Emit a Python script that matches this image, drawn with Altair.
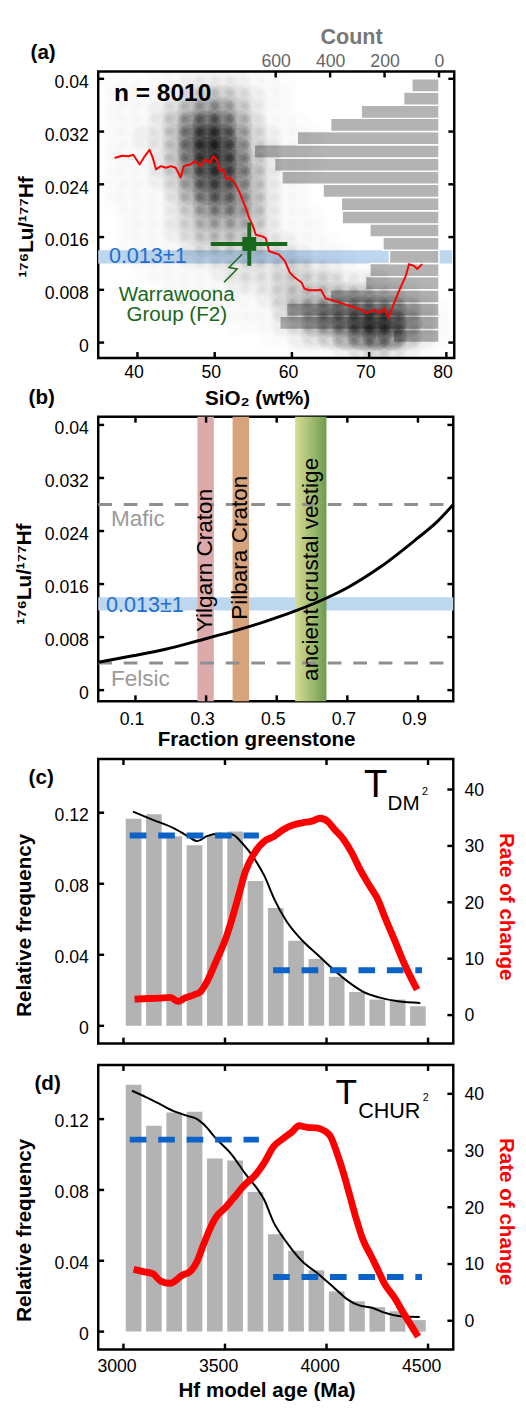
import altair as alt
import pandas as pd

FONT = "Liberation Sans"
NUM_FMT = ".4~g"

# ======================= panel (a) data =======================
A_SIO2_DOMAIN = [34.92, 81.02]
A_LUHF_DOMAIN = [-0.00233, 0.0411]
A_COUNT_DOMAIN = [-56, 1252]
SIO2_TICKS = [40, 50, 60, 70, 80]
LUHF_TICKS = [0, 0.008, 0.016, 0.024, 0.032, 0.04]
COUNT_TICKS = [0, 200, 400, 600]

HIST_BIN_LO = [0.000, 0.002, 0.004, 0.006, 0.008, 0.010, 0.012, 0.014, 0.016, 0.018,
               0.020, 0.022, 0.024, 0.026, 0.028, 0.030, 0.032, 0.034, 0.036, 0.038]
HIST_COUNT = [168, 585, 560, 400, 270, 254, 182, 206, 254, 356,
              359, 426, 577, 604, 679, 521, 398, 286, 130, 100]
HIST_BIN_WIDTH = 0.002

# point-density of the 8010 analyses, estimated per 2 wt% x 0.002 cell (hex level 0..b)
DENS_SIO2 = [37, 39, 41, 43, 45, 47, 49, 51, 53, 55, 57, 59, 61, 63, 65, 67, 69, 71, 73, 75, 77, 79]
DENS_LUHF = [0.041, 0.039, 0.037, 0.035, 0.033, 0.031, 0.029, 0.027, 0.025, 0.023, 0.021,
             0.019, 0.017, 0.015, 0.013, 0.011, 0.009, 0.007, 0.005, 0.003, 0.001, -0.001]
DENS_ROWS = [
    "0001111111100000000000",
    "1111122221110000000000",
    "1111234432110000000000",
    "1112356642110000000000",
    "1112479853111000000000",
    "112248ba63211100000000",
    "111248ba73211000000000",
    "111247aa74211100000000",
    "1112369974211000000000",
    "1111358864211000000000",
    "1111246764211000000000",
    "0111235554211100000000",
    "0111234443211100000000",
    "0111123333221110000000",
    "0111122223222111000000",
    "0011111222233221110000",
    "0001111122233332221100",
    "0000111111234444433210",
    "0000001111134566776421",
    "00000000111235679a9521",
    "0000000000112346898421",
    "0000000000001112343210",
]
N_ANALYSES = 8010

RED_A_SIO2 = [37.04, 37.97, 38.82, 39.45, 40.29, 40.93, 41.56, 41.99, 42.41, 43.05, 43.68, 44.32,
              44.95, 45.59, 46.01, 46.86, 47.49, 48.13, 48.76, 49.40, 49.82, 50.25, 50.67, 51.09,
              51.52, 51.94, 52.57, 53.21, 53.63, 54.06, 54.48, 54.90, 55.33, 56.17, 56.60, 57.02,
              57.65, 58.29, 59.08, 59.72, 60.32, 61.21, 61.63, 62.26, 63.33, 63.75, 64.38, 65.23,
              66.50, 67.77, 69.04, 69.68, 70.73, 71.37, 72.00, 72.51, 73.05, 73.90, 74.76, 75.17,
              75.81, 76.23, 76.86]
RED_A_LUHF = [0.0280, 0.02834, 0.02825, 0.02849, 0.0270, 0.02825, 0.02923, 0.0280, 0.02626,
              0.02677, 0.02651, 0.02677, 0.02651, 0.02503, 0.02677, 0.0270, 0.02751, 0.02677,
              0.02775, 0.02726, 0.02825, 0.02775, 0.02602, 0.02626, 0.02477, 0.02503, 0.02428,
              0.0228, 0.02156, 0.02031, 0.01883, 0.01784, 0.01636, 0.0161, 0.01585, 0.01387,
              0.01362, 0.01338, 0.01239, 0.01065, 0.0099, 0.00916, 0.00818, 0.00793, 0.00793,
              0.00803, 0.00669, 0.00644, 0.00595, 0.00544, 0.00495, 0.00446, 0.00495, 0.00446,
              0.0052, 0.00372, 0.00544, 0.00793, 0.01016, 0.0119, 0.01164, 0.01115, 0.0119]

WARRA_SIO2 = 54.48
WARRA_LUHF = 0.01496
WARRA_SIO2_RANGE = [49.49, 59.40]
WARRA_LUHF_RANGE = [0.01164, 0.01822]
ZIGZAG_SIO2 = [53.55, 51.85, 52.91, 51.21]
ZIGZAG_LUHF = [0.01338, 0.01139, 0.01115, 0.00916]

TARGET_LUHF = [0.012, 0.014]          # 0.013 +/- 0.001
TARGET_LABEL = "0.013±1"

# ======================= panel (b) data =======================
B_FRAC_DOMAIN = [-0.0055, 1.0]
B_LUHF_DOMAIN = [-0.00167, 0.04123]
FRAC_TICKS = [0.1, 0.3, 0.5, 0.7, 0.9]
MIX_FRAC = [-0.005, 0.0924, 0.185, 0.2774, 0.3698, 0.4624, 0.5548, 0.6472, 0.7027, 0.7952,
            0.8968, 0.9523, 1.0]
MIX_LUHF = [0.0042, 0.00518, 0.00617, 0.00745, 0.00878, 0.01027, 0.01198, 0.01405, 0.01553,
            0.01864, 0.02284, 0.0253, 0.0280]
MAFIC_LUHF = 0.028
FELSIC_LUHF = 0.0041
CRATON_NAMES = ["Yilgarn Craton", "Pilbara Craton", "ancient crustal vestige"]
CRATON_LO = [0.2755, 0.375, 0.552]
CRATON_HI = [0.3218, 0.4216, 0.6408]

# ======================= panels (c), (d) data =======================
AGE_DOMAIN = [2900, 4600]
AGE_TICKS = [3000, 3500, 4000, 4500]
FREQ_TICKS = [0, 0.04, 0.08, 0.12]
RATE_TICKS = [0, 10, 20, 30, 40]
AGE_BIN_CENTERS = [3050, 3150, 3250, 3350, 3450, 3550, 3650, 3750, 3850, 3950,
                   4050, 4150, 4250, 4350, 4450]

C_FREQ = [0.1166, 0.1192, 0.1068, 0.1017, 0.1072, 0.1094, 0.0815, 0.0663, 0.0479, 0.0377,
          0.0276, 0.0190, 0.0148, 0.0148, 0.0110]
C_BLACK_AGE = [3047, 3145, 3254, 3317, 3364, 3411, 3474, 3536, 3583, 3646, 3693, 3741, 3803,
               3882, 3960, 4038, 4117, 4179, 4258, 4352, 4462]
C_BLACK_FREQ = [0.1206, 0.1160, 0.1109, 0.1068, 0.1040, 0.1068, 0.1081, 0.1077, 0.1031, 0.0939,
                0.0847, 0.0718, 0.0589, 0.0479, 0.0396, 0.0313, 0.0239, 0.0193, 0.0160, 0.0138,
                0.0129]
C_RED_AGE = [3055, 3098, 3176, 3231, 3270, 3301, 3348, 3380, 3411, 3458, 3505, 3536, 3568, 3599,
             3646, 3693, 3741, 3788, 3835, 3882, 3929, 3968, 4007, 4038, 4085, 4124, 4164, 4211,
             4250, 4289, 4336, 4383, 4446]
C_RED_RATE = [2.84, 2.9, 3.0, 3.13, 2.43, 3.0, 3.6, 4.17, 5.9, 9.7, 13.7, 17.2, 21.3, 25.3, 28.8,
              30.8, 31.7, 32.9, 33.7, 34.1, 34.4, 34.9, 34.3, 33.0, 31.1, 28.8, 25.9, 23.0, 20.7,
              17.2, 13.2, 9.1, 4.5]
C_MEAN_AGE_FROM = [3031, 3737]
C_MEAN_AGE_TO = [3667, 4470]
C_MEAN_FREQ = [0.1072, 0.0313]
C_FREQ_DOMAIN = [-0.00994, 0.1502]
C_RATE_DOMAIN = [-5.04, 45.4]

D_FREQ = [0.1394, 0.1163, 0.1237, 0.1242, 0.0978, 0.0966, 0.0788, 0.0550, 0.0456, 0.0347,
          0.0227, 0.0172, 0.0138, 0.0115, 0.0065]
D_BLACK_AGE = [3042, 3113, 3176, 3254, 3316, 3363, 3394, 3457, 3535, 3598, 3661, 3692, 3739,
               3801, 3880, 3958, 4036, 4099, 4161, 4224, 4286, 4365, 4459]
D_BLACK_FREQ = [0.1360, 0.1323, 0.1287, 0.1242, 0.1218, 0.1200, 0.1172, 0.1089, 0.0997, 0.0895,
                0.0803, 0.0747, 0.0618, 0.0508, 0.0397, 0.0327, 0.0249, 0.0185, 0.0148, 0.0135,
                0.0107, 0.0087, 0.0083]
D_RED_AGE = [3050, 3097, 3144, 3183, 3230, 3254, 3285, 3332, 3363, 3394, 3426, 3457, 3504, 3551,
             3598, 3645, 3692, 3739, 3786, 3833, 3864, 3903, 3950, 3989, 4021, 4052, 4083, 4115,
             4146, 4177, 4224, 4255, 4286, 4333, 4380, 4451]
D_RED_RATE = [9.05, 8.65, 8.3, 7.0, 6.6, 7.0, 7.9, 8.8, 10.5, 13.4, 16.2, 18.3, 20.0, 22.0, 24.0,
              25.5, 27.8, 30.7, 32.1, 33.4, 34.4, 34.1, 34.0, 33.5, 32.4, 29.5, 26.1, 22.0, 18.0,
              14.5, 11.1, 8.8, 6.5, 4.15, 1.3, -2.8]
D_MEAN_AGE_FROM = [3031, 3737]
D_MEAN_AGE_TO = [3667, 4470]
D_MEAN_FREQ = [0.1084, 0.0308]
D_FREQ_DOMAIN = [-0.0101, 0.1505]
D_RATE_DOMAIN = [-5.07, 45.07]

# ======================= styles =======================
RED = "#ff0000"
GREEN = "#19671a"
BAND_BLUE = "#bdd7ef"
BLUE_TEXT = "#1f6fd1"
HIST_GREY = "#b3b3b3"
DASH_BLUE = "#0b63c7"
GREY_DASH = "#8f8f8f"
GREY_TEXT = "#9a9a9a"
CRATON_COLORS = ["#dcaaaa", "#d8a27c"]
VESTIGE_GRADIENT = {"gradient": "linear", "x1": 0, "x2": 1, "y1": 0, "y2": 0,
                    "stops": [{"offset": 0, "color": "#d9de96"}, {"offset": 1, "color": "#6c9c50"}]}
KERNEL_SIZES = [900, 450, 180]   # concentric soft discs used to shade the point density

W, H = 362, 290
WA, HA = 363, 292
TICK_LEN = 6


def sc(domain, reverse=False):
    if reverse:
        return alt.Scale(domain=domain, nice=False, zero=False, reverse=True)
    return alt.Scale(domain=domain, nice=False, zero=False)


def yticks(vals, scale, axis, side, width):
    x0, x1 = (0, TICK_LEN) if side == "left" else (width - TICK_LEN, width)
    return alt.Chart(pd.DataFrame({"v": vals})).mark_rule(color="black", strokeWidth=2.5).encode(
        y=alt.Y("v:Q", scale=scale, axis=axis), x=alt.value(x0), x2=alt.value(x1))


def xticks(vals, scale, axis, side, height):
    y0, y1 = (0, TICK_LEN) if side == "top" else (height - TICK_LEN, height)
    return alt.Chart(pd.DataFrame({"v": vals})).mark_rule(color="black", strokeWidth=2.5).encode(
        x=alt.X("v:Q", scale=scale, axis=axis), y=alt.value(y0), y2=alt.value(y1))


def pix_text(text, x, y, size, weight="normal", color="black"):
    return alt.Chart(pd.DataFrame({"t": [text]})).mark_text(
        font=FONT, fontSize=size, fontWeight=weight, color=color, align="left",
        baseline="alphabetic").encode(x=alt.value(x), y=alt.value(y), text="t:N")


def data_text(texts, xv, yv, xs, xa, ys, ya, size, color="black", weight="normal",
              align="left", baseline="alphabetic", angle=None, **extra):
    kw = dict(font=FONT, fontSize=size, fontWeight=weight, color=color, align=align,
              baseline=baseline, **extra)
    if angle is not None:
        kw["angle"] = angle
    return alt.Chart(pd.DataFrame({"t": texts, "x": xv, "y": yv})).mark_text(**kw).encode(
        x=alt.X("x:Q", scale=xs, axis=xa), y=alt.Y("y:Q", scale=ys, axis=ya), text="t:N")


def left_axis(values, title, title_y, tx=-75.5, label_offset=3):
    return alt.Axis(orient="left", values=values, format=NUM_FMT, labelPadding=10,
                    labelOffset=label_offset, title=title, titleX=tx, titleY=title_y,
                    titleAngle=270, titleAlign="center", titleBaseline="middle")


# ======================= panel (a) =======================
xs_a = sc(A_SIO2_DOMAIN)
ys_a = sc(A_LUHF_DOMAIN)
cs_a = sc(A_COUNT_DOMAIN, reverse=True)
YA = left_axis(LUHF_TICKS, "¹⁷⁶Lu/¹⁷⁷Hf", 158, tx=-73.5, label_offset=4)
XA = alt.Axis(orient="bottom", values=SIO2_TICKS, format=NUM_FMT, labelPadding=6,
              labelOffset=-4, title="SiO₂ (wt%)", titleX=162, titleY=47.7,
              titleAlign="center", titleBaseline="alphabetic")
CA = alt.Axis(orient="top", values=COUNT_TICKS, format=NUM_FMT, labelColor="#666666",
              labelBaseline="alphabetic", labelPadding=5, title="Count",
              titleColor="#777777", titleFontSize=22, titleX=257.8, titleY=-28.7,
              titleAlign="center", titleBaseline="alphabetic")

a_band = alt.Chart(pd.DataFrame({"lo": [TARGET_LUHF[0]], "hi": [TARGET_LUHF[1]]})).mark_rect(
    color=BAND_BLUE).encode(
    x=alt.value(0), x2=alt.value(WA - 2),
    y=alt.Y("lo:Q", scale=ys_a, axis=YA), y2="hi:Q")

hist_df = pd.DataFrame({"lo": HIST_BIN_LO, "count": HIST_COUNT})
hist_df["hi"] = hist_df["lo"] + HIST_BIN_WIDTH
hist_df["zero"] = 0
a_hist = alt.Chart(hist_df).mark_rect(color=HIST_GREY, stroke="white", strokeWidth=1.5).encode(
    x=alt.X("count:Q", scale=cs_a, axis=CA), x2="zero:Q",
    y=alt.Y("lo:Q", scale=ys_a, axis=YA), y2="hi:Q")
a_hist_layer = alt.layer(a_hist, xticks(COUNT_TICKS, cs_a, CA, "top", HA))

dens_records = []
for yv, row in zip(DENS_LUHF, DENS_ROWS):
    assert len(row) == len(DENS_SIO2), row
    for xv, ch in zip(DENS_SIO2, row):
        lvl = int(ch, 16)
        if lvl:
            for k in range(len(KERNEL_SIZES)):
                dens_records.append({"sio2": xv, "luhf": yv, "level": lvl, "ring": k})
dens_df = pd.DataFrame(dens_records)

a_dens = alt.Chart(dens_df).mark_circle(color="black", clip=True).encode(
    x=alt.X("sio2:Q", scale=xs_a, axis=XA),
    y=alt.Y("luhf:Q", scale=ys_a, axis=YA),
    size=alt.Size("ring:O", scale=alt.Scale(domain=list(range(len(KERNEL_SIZES))),
                                            range=KERNEL_SIZES), legend=None),
    opacity=alt.Opacity("level:Q", scale=alt.Scale(type="pow", exponent=1.5, domain=[0, 11],
                                                   range=[0, 0.2]), legend=None))

red_a_df = pd.DataFrame({"sio2": RED_A_SIO2, "luhf": RED_A_LUHF, "i": list(range(len(RED_A_SIO2)))})
a_red = alt.Chart(red_a_df).mark_line(color=RED, strokeWidth=2, strokeJoin="round").encode(
    x=alt.X("sio2:Q", scale=xs_a, axis=XA), y=alt.Y("luhf:Q", scale=ys_a, axis=YA),
    order="i:Q")

a_hbar = alt.Chart(pd.DataFrame({"x0": [WARRA_SIO2_RANGE[0]], "x1": [WARRA_SIO2_RANGE[1]],
                                 "y": [WARRA_LUHF]})).mark_rule(color=GREEN, strokeWidth=4).encode(
    x=alt.X("x0:Q", scale=xs_a, axis=XA), x2="x1:Q", y=alt.Y("y:Q", scale=ys_a, axis=YA))
a_vbar = alt.Chart(pd.DataFrame({"x": [WARRA_SIO2], "y0": [WARRA_LUHF_RANGE[0]],
                                 "y1": [WARRA_LUHF_RANGE[1]]})).mark_rule(color=GREEN, strokeWidth=4).encode(
    x=alt.X("x:Q", scale=xs_a, axis=XA), y=alt.Y("y0:Q", scale=ys_a, axis=YA), y2="y1:Q")
a_sq = alt.Chart(pd.DataFrame({"x": [WARRA_SIO2], "y": [WARRA_LUHF]})).mark_square(
    color=GREEN, size=200, opacity=1).encode(
    x=alt.X("x:Q", scale=xs_a, axis=XA), y=alt.Y("y:Q", scale=ys_a, axis=YA))
zig_df = pd.DataFrame({"x": ZIGZAG_SIO2, "y": ZIGZAG_LUHF, "i": list(range(len(ZIGZAG_SIO2)))})
a_zig = alt.Chart(zig_df).mark_line(color=GREEN, strokeWidth=1.5).encode(
    x=alt.X("x:Q", scale=xs_a, axis=XA), y=alt.Y("y:Q", scale=ys_a, axis=YA), order="i:Q")

a_n = data_text([f"n = {N_ANALYSES}"], [36.95], [0.03662], xs_a, XA, ys_a, YA, 25, weight="bold")
a_target = data_text([TARGET_LABEL], [36.3], [0.012], xs_a, XA, ys_a, YA, 22, color=BLUE_TEXT)
a_warra = data_text(["Warrawoona\nGroup (F2)"], [45.08], [0.00633], xs_a, XA, ys_a, YA,
                    21, color=GREEN, align="center", lineBreak="\n", lineHeight=21)

a_main = alt.layer(
    a_dens, a_target, a_red, a_zig, a_hbar, a_vbar, a_sq, a_n, a_warra,
    yticks(LUHF_TICKS, ys_a, YA, "left", WA), yticks(LUHF_TICKS, ys_a, YA, "right", WA),
    xticks(SIO2_TICKS, xs_a, XA, "bottom", HA),
    pix_text("(a)", -69, -13, 21, "bold"),
)
panel_a = alt.layer(a_band, a_hist_layer, a_main).resolve_scale(x="independent").properties(
    width=WA, height=HA)

# ======================= panel (b) =======================
xs_b = sc(B_FRAC_DOMAIN)
ys_b = sc(B_LUHF_DOMAIN)
YB = left_axis(LUHF_TICKS, "¹⁷⁶Lu/¹⁷⁷Hf", 160, label_offset=4)
XB = alt.Axis(orient="bottom", values=FRAC_TICKS, format=NUM_FMT, labelPadding=10,
              labelOffset=-4, title="Fraction greenstone", titleX=161, titleY=45,
              titleAlign="center", titleBaseline="alphabetic")

b_band = alt.Chart(pd.DataFrame({"lo": [TARGET_LUHF[0]], "hi": [TARGET_LUHF[1]]})).mark_rect(
    color=BAND_BLUE).encode(
    x=alt.value(0), x2=alt.value(W), y=alt.Y("lo:Q", scale=ys_b, axis=YB), y2="hi:Q")
crat_df = pd.DataFrame({"name": CRATON_NAMES[:2], "lo": CRATON_LO[:2], "hi": CRATON_HI[:2]})
b_crat = alt.Chart(crat_df).mark_rect().encode(
    x=alt.X("lo:Q", scale=xs_b, axis=XB), x2="hi:Q", y=alt.value(0), y2=alt.value(H),
    color=alt.Color("name:N", scale=alt.Scale(domain=CRATON_NAMES[:2], range=CRATON_COLORS),
                    legend=None))
b_vest = alt.Chart(pd.DataFrame({"lo": CRATON_LO[2:], "hi": CRATON_HI[2:]})).mark_rect(
    color=VESTIGE_GRADIENT).encode(
    x=alt.X("lo:Q", scale=xs_b, axis=XB), x2="hi:Q", y=alt.value(0), y2=alt.value(H))
b_dash = alt.Chart(pd.DataFrame({"v": [MAFIC_LUHF, FELSIC_LUHF]})).mark_rule(
    color=GREY_DASH, strokeWidth=3, strokeDash=[14, 12]).encode(
    y=alt.Y("v:Q", scale=ys_b, axis=YB), x=alt.value(0), x2=alt.value(W))
b_end = data_text(["Mafic", "Felsic"], [0.0305, 0.0305], [0.0248, 0.00065], xs_b, XB, ys_b, YB,
                  23, color=GREY_TEXT)
b_target = data_text([TARGET_LABEL], [0.0166], [0.01183], xs_b, XB, ys_b, YB, 22, color=BLUE_TEXT)
b_crat_text = data_text(CRATON_NAMES, [0.298, 0.396, 0.598], [0.01956, 0.02148, 0.01822],
                        xs_b, XB, ys_b, YB, 23, align="center", baseline="middle", angle=270)
mix_df = pd.DataFrame({"f": MIX_FRAC, "y": MIX_LUHF})
b_curve = alt.Chart(mix_df).mark_line(color="black", strokeWidth=3, interpolate="monotone").encode(
    x=alt.X("f:Q", scale=xs_b, axis=XB), y=alt.Y("y:Q", scale=ys_b, axis=YB))
panel_b = alt.layer(
    b_band, b_crat, b_vest, b_dash, b_end, b_target, b_crat_text, b_curve,
    yticks(LUHF_TICKS, ys_b, YB, "left", W), yticks(LUHF_TICKS, ys_b, YB, "right", W),
    xticks(FRAC_TICKS, xs_b, XB, "top", H), xticks(FRAC_TICKS, xs_b, XB, "bottom", H),
    pix_text("(b)", -71, -13, 21, "bold"),
).properties(width=W, height=H)


# ======================= panels (c), (d) =======================
def panel_cd(freq, black_age, black_freq, red_age, red_rate, m_from, m_to, m_freq,
             freq_domain, rate_domain, show_x, texts, left_title_y, right_title_y):
    xs = sc(AGE_DOMAIN)
    yl = sc(freq_domain)
    yr = sc(rate_domain)
    if show_x:
        XX = alt.Axis(orient="bottom", values=AGE_TICKS, format=NUM_FMT, labelPadding=8,
                      labelOffset=-7, title="Hf model age (Ma)", titleX=171.7, titleY=48.3,
                      titleAlign="center", titleBaseline="alphabetic")
    else:
        XX = None
    YL = left_axis(FREQ_TICKS, "Relative frequency", left_title_y)
    YR = alt.Axis(orient="right", values=RATE_TICKS, format=NUM_FMT, labelPadding=11,
                  labelOffset=1, title="Rate of change", titleColor=RED, titleX=53.3,
                  titleY=right_title_y, titleAngle=90, titleAlign="center",
                  titleBaseline="middle")
    bars = alt.Chart(pd.DataFrame({"age": AGE_BIN_CENTERS, "freq": freq})).mark_bar(
        color=HIST_GREY, size=16, orient="vertical").encode(
        x=alt.X("age:Q", scale=xs, axis=XX), y=alt.Y("freq:Q", scale=yl, axis=YL))
    black = alt.Chart(pd.DataFrame({"age": black_age, "freq": black_freq})).mark_line(
        color="black", strokeWidth=2, interpolate="monotone").encode(
        x=alt.X("age:Q", scale=xs, axis=XX), y=alt.Y("freq:Q", scale=yl, axis=YL))
    red = alt.Chart(pd.DataFrame({"age": red_age, "rate": red_rate})).mark_line(
        color=RED, strokeWidth=7, interpolate="monotone").encode(
        x=alt.X("age:Q", scale=xs, axis=XX), y=alt.Y("rate:Q", scale=yr, axis=YR))
    dashes = alt.Chart(pd.DataFrame({"a0": m_from, "a1": m_to, "f": m_freq})).mark_rule(
        color=DASH_BLUE, strokeWidth=6, strokeDash=[17, 12]).encode(
        x=alt.X("a0:Q", scale=xs, axis=XX), x2="a1:Q", y=alt.Y("f:Q", scale=yl, axis=None))
    left1 = alt.layer(bars, black)
    right = alt.layer(red, yticks(RATE_TICKS, yr, YR, "right", W))
    left2 = alt.layer(dashes, yticks(FREQ_TICKS, yl, None, "left", W),
                      xticks(AGE_TICKS, xs, XX, "top", H), xticks(AGE_TICKS, xs, XX, "bottom", H),
                      *[pix_text(*t) for t in texts])
    return alt.layer(left1, right, left2).resolve_scale(y="independent").properties(
        width=W, height=H)


panel_c = panel_cd(C_FREQ, C_BLACK_AGE, C_BLACK_FREQ, C_RED_AGE, C_RED_RATE,
                   C_MEAN_AGE_FROM, C_MEAN_AGE_TO, C_MEAN_FREQ, C_FREQ_DOMAIN, C_RATE_DOMAIN,
                   False,
                   [("T", 271, 39, 39), ("DM", 295, 52, 21), ("2", 330, 37, 11),
                    ("(c)", -71, 25, 21, "bold")], 169, 150)
panel_d = panel_cd(D_FREQ, D_BLACK_AGE, D_BLACK_FREQ, D_RED_AGE, D_RED_RATE,
                   D_MEAN_AGE_FROM, D_MEAN_AGE_TO, D_MEAN_FREQ, D_FREQ_DOMAIN, D_RATE_DOMAIN,
                   True,
                   [("T", 242, 40, 36), ("CHUR", 265, 54, 22), ("2", 331, 37, 11),
                    ("(d)", -65, 25, 21, "bold")], 168, 149)


def spacer(h):
    return alt.Chart(pd.DataFrame({"v": [0]})).mark_point(opacity=0).encode(
        x=alt.value(0), y=alt.value(0)).properties(
        width=W, height=h, view=alt.ViewBackground(stroke="transparent"))


chart = alt.vconcat(panel_a, spacer(16), panel_b, spacer(15), panel_c, panel_d,
                    spacing=22, bounds="flush").properties(
    padding={"left": 4, "top": 3, "right": 0, "bottom": 0}
).configure_axis(
    labelFont=FONT, titleFont=FONT, labelFontSize=18, titleFontSize=21, titleFontWeight="bold",
    labelColor="black", titleColor="black", grid=False, domain=False, ticks=False, tickSize=0,
    labelFlush=False, labelOverlap=False
).configure_view(stroke="black", strokeWidth=2.5)

chart.save("out.html", embed_options={"renderer": "svg", "actions": False})
